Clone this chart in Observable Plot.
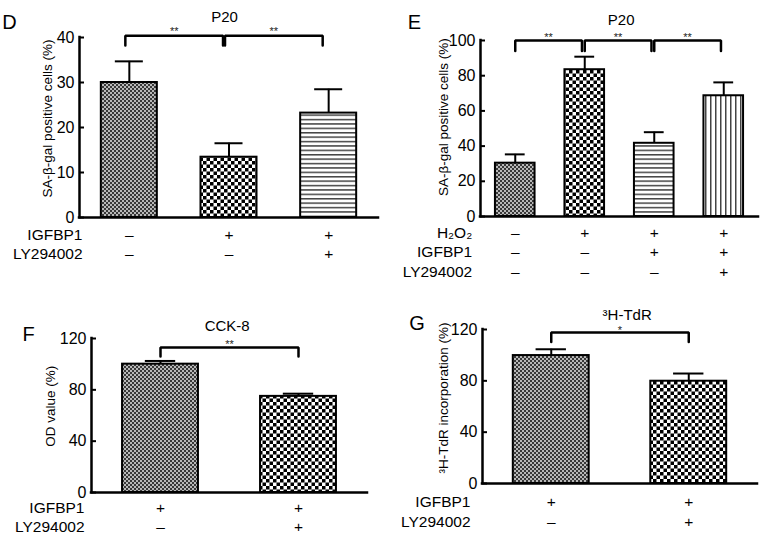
<!DOCTYPE html>
<html><head><meta charset="utf-8">
<script src="https://cdn.jsdelivr.net/npm/d3@7"></script>
<script src="https://cdn.jsdelivr.net/npm/@observablehq/plot@0.6"></script>
<style>
body{margin:0;background:#fff;}
#root{position:relative;width:765px;height:541px;overflow:hidden;background:#fff;}
.panel{position:absolute;}
</style></head><body><div id="root"></div>
<script>
// ---------- DATA ----------
// Panel D
const dGroups = ["Control", "IGFBP1", "IGFBP1 + LY294002"];
const dMean = [30, 13.4, 23.2];
const dErr = [4.7, 3.1, 5.3];
const dYTicks = [0, 10, 20, 30, 40];
const dRowIGFBP1 = ["–", "+", "+"];
const dRowLY = ["–", "–", "+"];
const dPairs = [[0, 1], [1, 2]];
const dStars = ["**", "**"];
// Panel E
const eGroups = ["Control", "H2O2", "H2O2 + IGFBP1", "H2O2 + IGFBP1 + LY294002"];
const eMean = [30.3, 83.4, 41.6, 68.6];
const eErr = [5.0, 7.4, 6.3, 7.6];
const eYTicks = [0, 20, 40, 60, 80, 100];
const eRowH2O2 = ["–", "+", "+", "+"];
const eRowIGFBP1 = ["–", "–", "+", "+"];
const eRowLY = ["–", "–", "–", "+"];
const ePairs = [[0, 1], [1, 2], [2, 3]];
const eStars = ["**", "**", "**"];
// Panel F
const fGroups = ["IGFBP1", "IGFBP1 + LY294002"];
const fMean = [100, 74.9];
const fErr = [2.5, 2.1];
const fYTicks = [0, 40, 80, 120];
const fRowIGFBP1 = ["+", "+"];
const fRowLY = ["–", "+"];
const fPairs = [[0, 1]];
const fStars = ["**"];
// Panel G
const gGroups = ["IGFBP1", "IGFBP1 + LY294002"];
const gMean = [99.7, 79.7];
const gErr = [4.9, 6.0];
const gYTicks = [0, 40, 80, 120];
const gRowIGFBP1 = ["+", "+"];
const gRowLY = ["–", "+"];
const gPairs = [[0, 1]];
const gStars = ["*"];

// ---------- DRAWING ----------
const FONT = '"Liberation Sans", Arial, Helvetica, sans-serif';

function addPatterns(svg, id) {
  const defs = d3.select(svg).insert("defs", ":first-child");
  let p = defs.append("pattern").attr("id", id + "-p1").attr("patternUnits", "userSpaceOnUse").attr("width", 4).attr("height", 4);
  p.append("rect").attr("width", 4).attr("height", 4).attr("fill", "#b8b8b8");
  p.append("rect").attr("width", 2).attr("height", 2).attr("fill", "#383838");
  p.append("rect").attr("x", 2).attr("y", 2).attr("width", 2).attr("height", 2).attr("fill", "#383838");
  p = defs.append("pattern").attr("id", id + "-p2").attr("patternUnits", "userSpaceOnUse").attr("width", 7).attr("height", 7);
  p.append("rect").attr("width", 7).attr("height", 7).attr("fill", "#fff");
  p.append("rect").attr("width", 3.5).attr("height", 3.5).attr("fill", "#000");
  p.append("rect").attr("x", 3.5).attr("y", 3.5).attr("width", 3.5).attr("height", 3.5).attr("fill", "#000");
  p = defs.append("pattern").attr("id", id + "-p3").attr("patternUnits", "userSpaceOnUse").attr("width", 10).attr("height", 4.4);
  p.append("rect").attr("width", 10).attr("height", 4.4).attr("fill", "#fff");
  p.append("rect").attr("width", 10).attr("height", 1.5).attr("fill", "#444");
  p = defs.append("pattern").attr("id", id + "-p4").attr("patternUnits", "userSpaceOnUse").attr("width", 5).attr("height", 10);
  p.append("rect").attr("width", 5).attr("height", 10).attr("fill", "#fff");
  p.append("rect").attr("width", 1.5).attr("height", 10).attr("fill", "#444");
}

function panel(c) {
  const n = c.groups.length;
  const table = c.groups.map((g, i) => ({i, g, mean: c.mean[i], err: c.err[i], fill: `url(#${c.id}-${c.patterns[i]})`}));
  const unit = (c.width - c.marginLeft - c.marginRight) / n;
  const tickLen = 5 / unit;
  const frameBottom = c.height - c.marginBottom;
  const hw = c.hw;
  const bracketPts = [];
  c.pairs.forEach(([a, b], k) => {
    const xa = a + c.bOff[0], xb = b + c.bOff[1];
    bracketPts.push({k, x: xa, y: c.bLeg}, {k, x: xa, y: c.bTop}, {k, x: xb, y: c.bTop}, {k, x: xb, y: c.bLeg});
  });
  const starData = c.pairs.map(([a, b], k) => ({x: (a + c.bOff[0] + b + c.bOff[1]) / 2, t: c.stars[k]}));
  const abs = (xy, opts) => ({frameAnchor: "top-left", dx: xy[0] - c.marginLeft, dy: xy[1] - c.marginTop, textAnchor: "middle", fill: "black", ...opts});
  const marks = [
    Plot.rect(table, {x1: d => d.i - hw, x2: d => d.i + hw, y1: 0, y2: "mean", fill: "fill", stroke: "black", strokeWidth: 2}),
    Plot.ruleX(table, {x: "i", y1: "mean", y2: d => d.mean + d.err, stroke: "black", strokeWidth: 2}),
    Plot.ruleY(table, {y: d => d.mean + d.err, x1: d => d.i - hw * c.cap, x2: d => d.i + hw * c.cap, stroke: "black", strokeWidth: 2}),
    Plot.ruleX([-0.5], {y1: c.yTicks[0], y2: c.yTicks[c.yTicks.length - 1], stroke: "black", strokeWidth: 2.5, strokeLinecap: "square"}),
    Plot.ruleY([0], {x1: -0.5, x2: n - 0.5, stroke: "black", strokeWidth: 2.5, strokeLinecap: "square"}),
    Plot.ruleY(c.yTicks, {y: d => d, x1: -0.5, x2: -0.5 + tickLen, stroke: "black", strokeWidth: 2}),
    Plot.axisY({ticks: c.yTicks, tickSize: 0, tickPadding: 5, tickFormat: d => String(d), label: null, fontSize: 16, fill: "black"}),
    Plot.line(bracketPts, {x: "x", y: "y", z: "k", stroke: "black", strokeWidth: 2.5, strokeLinejoin: "miter", curve: "linear"}),
    Plot.text(starData, {x: "x", y: c.bTop, text: "t", dy: c.starDy, lineAnchor: "bottom", fontSize: 11, fill: "#222"}),
    Plot.text([c.title], abs(c.titleXY, {fontSize: 15})),
    Plot.text([c.letter], abs(c.letterXY, {fontSize: 20})),
    Plot.text([c.ylabel], abs(c.ylabelXY, {rotate: -90, fontSize: 13.5}))
  ];
  c.rows.forEach((r, k) => {
    const dy = c.rowY[k] - frameBottom;
    marks.push(Plot.text(r.signs, {x: (d, i) => i, text: d => d, frameAnchor: "bottom", dy, fontSize: 15.5, fill: "black"}));
    marks.push(Plot.text([r.name], {frameAnchor: "bottom-left", dx: c.rowRight - c.marginLeft, dy, textAnchor: "end", fontSize: 15.5, fill: "black"}));
  });
  const svg = Plot.plot({
    width: c.width, height: c.height,
    marginLeft: c.marginLeft, marginRight: c.marginRight, marginTop: c.marginTop, marginBottom: c.marginBottom,
    x: {domain: [-0.5, n - 0.5], axis: null},
    y: {domain: [c.yTicks[0], c.yTicks[c.yTicks.length - 1]]},
    color: {type: "identity"},
    style: {fontFamily: FONT, fontSize: "15px", color: "black", background: "transparent", overflow: "visible"},
    marks
  });
  addPatterns(svg, c.id);
  const wrap = document.createElement("div");
  wrap.className = "panel";
  wrap.style.left = c.left + "px";
  wrap.style.top = c.top + "px";
  wrap.appendChild(svg);
  document.getElementById("root").appendChild(wrap);
}

panel({
  id: "pd", left: 0, top: 0, width: 380, height: 290,
  marginLeft: 79, marginRight: 2, marginTop: 37, marginBottom: 73,
  groups: dGroups, mean: dMean, err: dErr, yTicks: dYTicks,
  patterns: ["p1", "p2", "p3"], hw: 0.281, cap: 0.5,
  pairs: dPairs, stars: dStars, bTop: 40.4, bLeg: 38.2, bOff: [-0.04, -0.06], starDy: -1,
  title: "P20", titleXY: [224, 11], letter: "D", letterXY: [9, 14],
  ylabel: "SA-β-gal positive cells (%)", ylabelXY: [42, 118],
  rows: [{name: "IGFBP1", signs: dRowIGFBP1}, {name: "LY294002", signs: dRowLY}],
  rowY: [239.3, 258.3], rowRight: 82
});

panel({
  id: "pe", left: 380, top: 0, width: 385, height: 290,
  marginLeft: 100, marginRight: 7, marginTop: 40, marginBottom: 74,
  groups: eGroups, mean: eMean, err: eErr, yTicks: eYTicks,
  patterns: ["p1", "p2", "p3", "p4"], hw: 0.285, cap: 0.5,
  pairs: ePairs, stars: eStars, bTop: 100, bLeg: 94, bOff: [0, -0.04], starDy: 0,
  title: "P20", titleXY: [240.7, 14], letter: "E", letterXY: [34, 14.5],
  ylabel: "SA-β-gal positive cells (%)", ylabelXY: [58.3, 116.7],
  rows: [{name: "H₂O₂", signs: eRowH2O2}, {name: "IGFBP1", signs: eRowIGFBP1}, {name: "LY294002", signs: eRowLY}],
  rowY: [237.3, 256, 276], rowRight: 91.7
});

panel({
  id: "pf", left: 0, top: 290, width: 380, height: 251,
  marginLeft: 91, marginRight: 13, marginTop: 48, marginBottom: 49,
  groups: fGroups, mean: fMean, err: fErr, yTicks: fYTicks,
  patterns: ["p1", "p2"], hw: 0.275, cap: 0.4,
  pairs: fPairs, stars: fStars, bTop: 112.9, bLeg: 106, bOff: [0, 0], starDy: 0,
  title: "CCK-8", titleXY: [226.7, 30], letter: "F", letterXY: [28, 36.5],
  ylabel: "OD value (%)", ylabelXY: [45, 115.8],
  rows: [{name: "IGFBP1", signs: fRowIGFBP1}, {name: "LY294002", signs: fRowLY}],
  rowY: [222.5, 241], rowRight: 84
});

panel({
  id: "pg", left: 380, top: 290, width: 385, height: 251,
  marginLeft: 102, marginRight: 8, marginTop: 39, marginBottom: 58,
  groups: gGroups, mean: gMean, err: gErr, yTicks: gYTicks,
  patterns: ["p1", "p2"], hw: 0.276, cap: 0.4,
  pairs: gPairs, stars: gStars, bTop: 117.7, bLeg: 110.3, bOff: [0, 0], starDy: 2,
  title: "³H-TdR", titleXY: [246.7, 19], letter: "G", letterXY: [36.5, 25],
  ylabel: "³H-TdR incorporation (%)", ylabelXY: [58.3, 107.5],
  rows: [{name: "IGFBP1", signs: gRowIGFBP1}, {name: "LY294002", signs: gRowLY}],
  rowY: [216.7, 236], rowRight: 90
});
</script>
</body></html>
